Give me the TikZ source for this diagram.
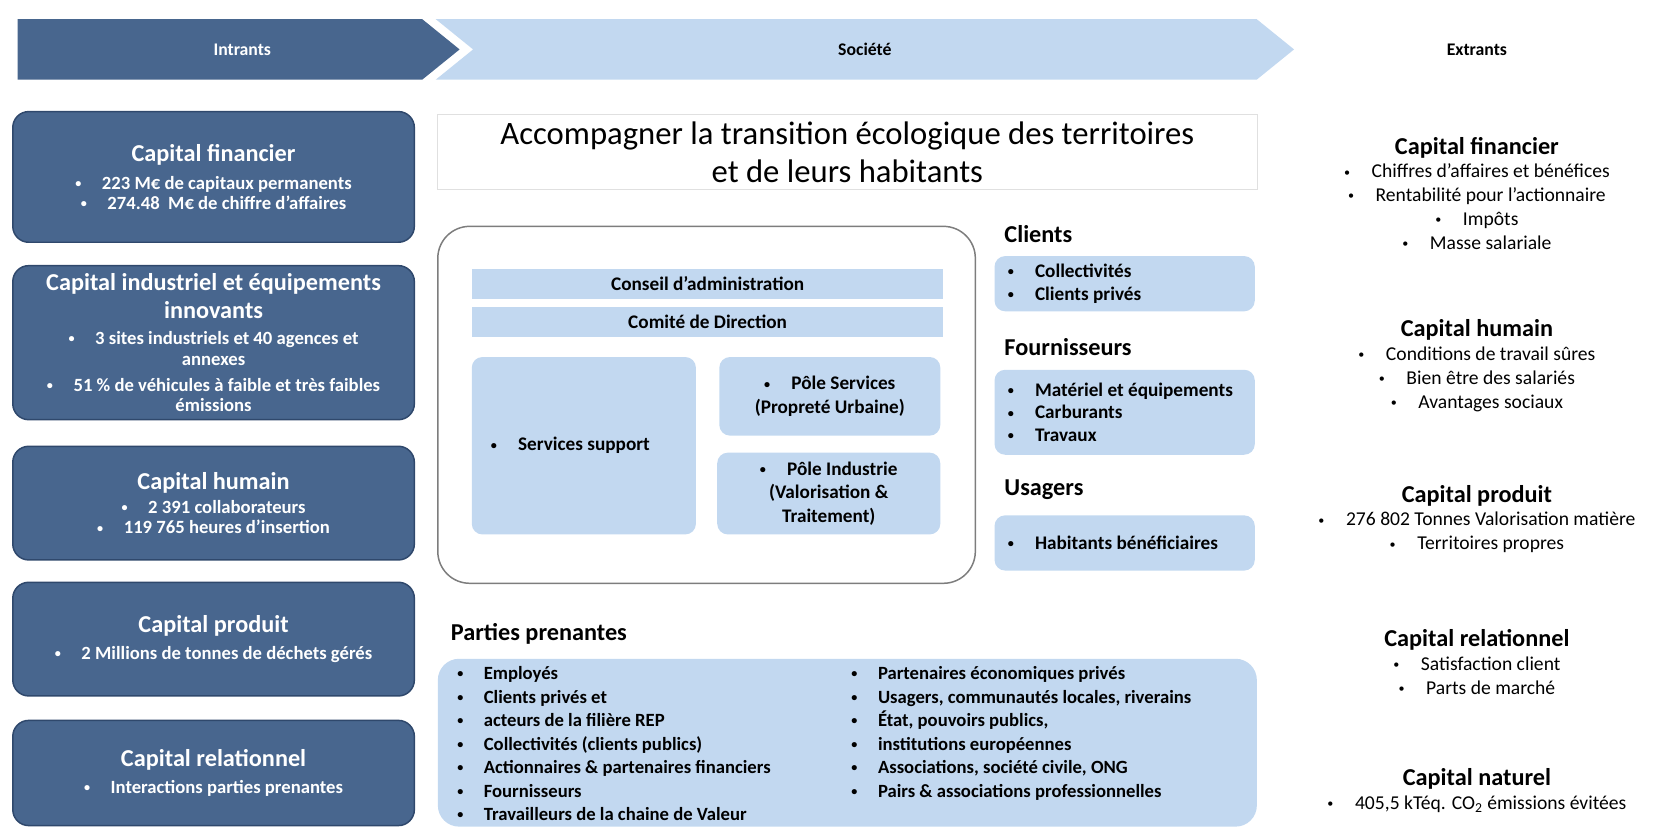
\documentclass[tikz,border=0pt]{standalone}
\usepackage{fontspec}
\setmainfont{Carlito}
\usepackage{tikz}
\usetikzlibrary{positioning,shapes.symbols,calc}
\definecolor{capblue}{RGB}{72,102,142}
\definecolor{capedge}{RGB}{47,72,108}
\definecolor{paleblue}{RGB}{194,216,240}
\definecolor{framegray}{RGB}{125,125,125}
\tikzstyle{hdr}=[signal,signal pointer angle=78,minimum height=1.14cm,inner sep=0pt,font=\fontsize{9.5}{11}\selectfont\bfseries]
\tikzstyle{capbox}=[rectangle,rounded corners=0.3cm,draw=capedge,thick,fill=capblue,text=white,align=center,minimum width=7.56cm,font=\fontsize{10}{11}\selectfont\bfseries]
\tikzstyle{pb}=[rectangle,rounded corners=0.2cm,fill=paleblue,font=\fontsize{10.3}{12.5}\selectfont\bfseries]
\tikzstyle{bar}=[rectangle,fill=paleblue,minimum width=8.88cm,minimum height=0.56cm,font=\fontsize{10.3}{11}\selectfont\bfseries]
\tikzstyle{headtxt}=[anchor=west,inner sep=0pt,font=\fontsize{13}{15}\selectfont\bfseries]
\tikzstyle{listtxt}=[align=left,inner sep=0pt,font=\fontsize{10}{12.6}\selectfont\bfseries]
\tikzstyle{outtxt}=[align=center,font=\fontsize{10.5}{12.8}\selectfont]
\def\bul{\raisebox{0.2ex}{\fontsize{6.5}{6.5}\selectfont\textbullet}\hspace{1.1em}}
\def\ttl#1{{\fontsize{13}{15}\selectfont\bfseries #1}}

\begin{document}
\begin{tikzpicture}[x=0.02cm,y=-0.02cm]
    \useasboundingbox (0,0) rectangle (1568,779);
    % bandeau
    \node (intr) [hdr,signal to=east,fill=capblue,minimum width=8.32cm] at (207,46.5) {};
    \node (intrlbl) [font=\fontsize{9.5}{11}\selectfont\bfseries,text=white] at (228,46.5) {Intrants};
    \node (soc) [hdr,signal from=west,signal to=east,fill=paleblue,minimum width=16.16cm] at (814,46.5) {Société};
    \node (extr) [font=\fontsize{9.5}{11}\selectfont\bfseries] at (1390,47) {Extrants};

    % intrants
    \node (cfin) [capbox,minimum height=2.46cm] at (201,166.5) {\ttl{Capital financier}\\[4pt] \bul 223 M€ de capitaux permanents\\ \bul 274.48~~M€ de chiffre d’affaires};
    \node (cind) [capbox,minimum height=2.9cm] at (201,322.5) {\ttl{Capital industriel et équipements}\\[3pt] \ttl{innovants}\\[3pt] \bul 3 sites industriels et 40 agences et\\ annexes\\[3pt] \bul 51 \% de véhicules à faible et très faibles\\ émissions};
    \node (chum) [capbox,minimum height=2.14cm] at (201,473.5) {\ttl{Capital humain}\\[2pt] \bul 2 391 collaborateurs\\ \bul 119 765 heures d’insertion};
    \node (cprod) [capbox,minimum height=2.14cm] at (201,601.5) {\ttl{Capital produit}\\[3pt] \bul 2 Millions de tonnes de déchets gérés};
    \node (crel) [capbox,minimum height=1.98cm] at (201,727.5) {\ttl{Capital relationnel}\\[3pt] \bul Interactions parties prenantes};

    % societe
    \node (mission) [draw=black!12,fill=white,minimum width=15.42cm,minimum height=1.4cm,align=center,font=\fontsize{17.5}{19}\selectfont] at (797.5,143) {Accompagner la transition écologique des territoires\\[1.5pt] et de leurs habitants};
    \node (org) [draw=framegray,thick,rounded corners=0.6cm,minimum width=10.12cm,minimum height=6.72cm] at (665,381) {};
    \node (conseil) [bar] at (666,267) {Conseil d’administration};
    \node (codir) [bar] at (666,303) {Comité de Direction};
    \node (supp) [pb,minimum width=4.22cm,minimum height=3.34cm,text width=3.5cm,inner xsep=0.36cm,align=flush left] at (549.5,419.5) {\bul Services support};
    \node (psvc) [pb,minimum width=4.16cm,minimum height=1.48cm,align=center] at (781,373) {\bul Pôle Services\\(Propreté Urbaine)};
    \node (pind) [pb,minimum width=4.2cm,minimum height=1.54cm,align=center] at (780,464.5) {\bul Pôle Industrie\\(Valorisation \&\\Traitement)};

    \node (hcli) [headtxt] at (945,220) {Clients};
    \node (cli) [pb,minimum width=4.9cm,minimum height=1.04cm,text width=4.4cm,inner xsep=0.25cm,align=flush left] at (1058.5,267) {\bul Collectivités\\ \bul Clients privés};
    \node (hfour) [headtxt] at (945,327) {Fournisseurs};
    \node (four) [pb,minimum width=4.9cm,minimum height=1.6cm,text width=4.4cm,inner xsep=0.25cm,align=flush left,font=\fontsize{10.3}{12}\selectfont\bfseries] at (1058.5,388) {\bul Matériel et équipements\\ \bul Carburants\\ \bul Travaux};
    \node (husa) [headtxt] at (945,461) {Usagers};
    \node (usa) [pb,minimum width=4.9cm,minimum height=1.04cm,text width=4.4cm,inner xsep=0.25cm,align=flush left] at (1058.5,511) {\bul Habitants bénéficiaires};

    \node (hpp) [headtxt] at (424,597) {Parties prenantes};
    \node (ppbox) [pb,rounded corners=0.4cm,minimum width=15.42cm,minimum height=3.16cm] at (797.5,699) {};
    \node (ppg) [listtxt,anchor=north west] at (430,627) {\bul Employés\\ \bul Clients privés et\\ \bul acteurs de la filière REP\\ \bul Collectivités (clients publics)\\ \bul Actionnaires \& partenaires financiers\\ \bul Fournisseurs\\ \bul Travailleurs de la chaine de Valeur};
    \node (ppd) [listtxt,anchor=north west] at (801,627) {\bul Partenaires économiques privés\\ \bul Usagers, communautés locales, riverains\\ \bul État, pouvoirs publics,\\ \bul institutions européennes\\ \bul Associations, société civile, ONG\\ \bul Pairs \& associations professionnelles};

    % extrants
    \node (xfin) [outtxt] at (1390,182) {\ttl{Capital financier}\\ \bul Chiffres d’affaires et bénéfices\\ \bul Rentabilité pour l’actionnaire\\ \bul Impôts\\ \bul Masse salariale};
    \node (xhum) [outtxt] at (1390,344) {\ttl{Capital humain}\\ \bul Conditions de travail sûres\\ \bul Bien être des salariés\\ \bul Avantages sociaux};
    \node (xprod) [outtxt] at (1390,488.5) {\ttl{Capital produit}\\ \bul 276 802 Tonnes Valorisation matière\\ \bul Territoires propres};
    \node (xrel) [outtxt] at (1390,623) {\ttl{Capital relationnel}\\ \bul Satisfaction client\\ \bul Parts de marché};
    \node (xnat) [outtxt] at (1390,744) {\ttl{Capital naturel}\\ \bul 405,5 kTéq. CO\textsubscript{2} émissions évitées};
\end{tikzpicture}
\end{document}
